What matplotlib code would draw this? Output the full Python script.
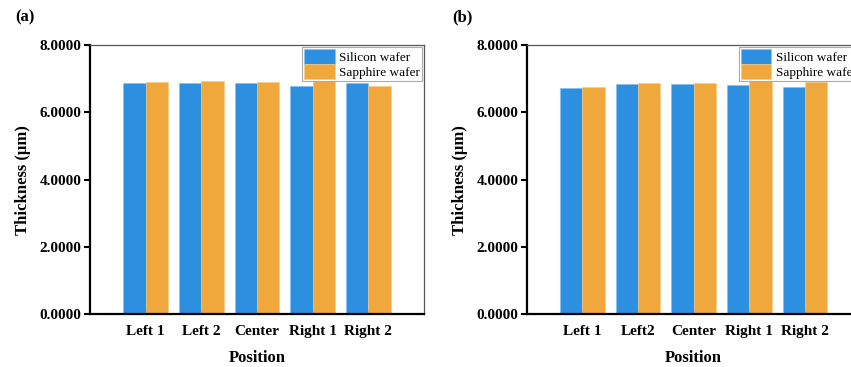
import matplotlib
matplotlib.use("Agg")
import matplotlib.pyplot as plt
import numpy as np

positions_a = ["Left 1", "Left 2", "Center", "Right 1", "Right 2"]
positions_b = ["Left 1", "Left2", "Center", "Right 1", "Right 2"]
silicon_a = [6.88, 6.86, 6.87, 6.79, 6.86]
sapphire_a = [6.91, 6.93, 6.91, 6.95, 6.78]
silicon_b = [6.71, 6.85, 6.83, 6.82, 6.76]
sapphire_b = [6.74, 6.88, 6.86, 6.95, 6.90]
yticks = [0, 2, 4, 6, 8]
series_names = ["Silicon wafer", "Sapphire wafer"]
panel_labels = ["(a)", "(b)"]

blue = "#2D8FE0"
orange = "#F0A83C"

plt.rcParams['font.family'] = ['Liberation Serif', 'DejaVu Serif']

fig = plt.figure(figsize=(8.51, 3.67), dpi=100)
W, H = 851, 367

def make_ax(left_px, cats, sil, sap, label, label_x):
    ax = fig.add_axes([left_px / W, 1 - 314.3 / H, 334 / W, (314.3 - 45) / H])
    x = np.arange(len(cats))
    w = 0.4
    ax.bar(x - w / 2, sil, w, color=blue, edgecolor="#7fbef0", linewidth=0.4, label=series_names[0], zorder=2)
    ax.bar(x + w / 2, sap, w, color=orange, edgecolor="#f5c985", linewidth=0.4, label=series_names[1], zorder=2)
    ax.set_xlim(-1, 5)
    ax.set_ylim(0, 8)
    ax.set_xticks(x)
    ax.set_xticklabels(cats, fontsize=11, fontweight="bold")
    ax.set_yticks(yticks)
    ax.set_yticklabels([f"{v:.4f}" for v in yticks], fontsize=11, fontweight="bold")
    ax.tick_params(axis="y", direction="out", length=4, width=1.5, pad=2)
    ax.tick_params(axis="x", direction="in", length=3, width=1.2, pad=8)
    for s in ["left", "bottom"]:
        ax.spines[s].set_linewidth(1.6)
        ax.spines[s].set_color("black")
    for s in ["top", "right"]:
        ax.spines[s].set_linewidth(0.9)
        ax.spines[s].set_color("#555555")
    ax.set_xlabel("Position", fontsize=12, fontweight="bold", labelpad=8)
    ax.set_ylabel("Thickness (μm)", fontsize=12, fontweight="bold", labelpad=6)
    leg = ax.legend(loc="upper right", bbox_to_anchor=(1.0, 1.0), borderaxespad=0.15,
                    fontsize=9.5, handlelength=2.3, handleheight=1.4, labelspacing=0.0,
                    handletextpad=0.35, borderpad=0.15, fancybox=False, framealpha=1,
                    edgecolor="#aaaaaa")
    leg.get_frame().set_linewidth(0.8)
    fig.text(label_x / W, 1 - 17 / H, label, fontsize=12, fontweight="bold", va="center", ha="left")
    return ax

make_ax(90, positions_a, silicon_a, sapphire_a, panel_labels[0], 15)
make_ax(526.7, positions_b, silicon_b, sapphire_b, panel_labels[1], 452)

fig.savefig("out.png", dpi=100)
